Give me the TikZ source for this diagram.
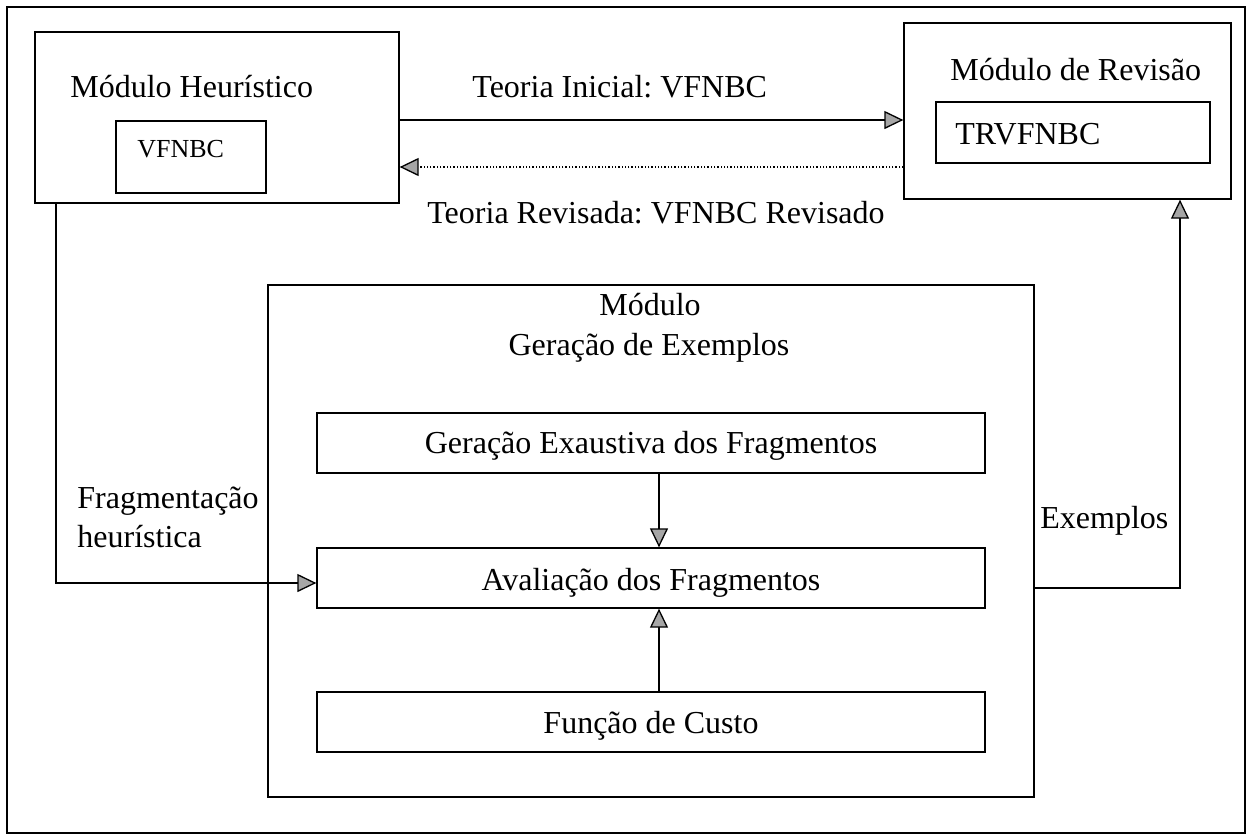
\documentclass[tikz,border=0pt]{standalone}
\usepackage{fontspec}
\setmainfont{Liberation Serif}
\usetikzlibrary{arrows.meta}
\frenchspacing
\begin{document}
\begin{tikzpicture}[x=0.5pt,y=-0.5pt,
  box/.style={draw, line width=0.65pt, rectangle, inner sep=0pt},
  txt/.style={inner sep=0pt, font=\fontsize{16}{19}\selectfont},
  small/.style={inner sep=0pt, font=\fontsize{13}{16}\selectfont},
  arr/.style={line width=0.65pt, -{Triangle[length=9.5pt,width=9pt,fill=gray!70]}}]
\useasboundingbox (0,0) rectangle (1253,836);

% frame around everything
\node[box, minimum width=619pt, minimum height=413pt] (frame) at (626,420) {};

% heuristic module
\node[box, minimum width=182pt, minimum height=85.5pt] (heur) at (217,117.5) {};
\node[txt, anchor=base west] (heurT) at (70,97) {Módulo Heurístico};
\node[box, minimum width=75pt, minimum height=36pt] (vf) at (191,157) {};
\node[small, anchor=base west] (vfT) at (137,157) {VFNBC};

% revision module
\node[box, minimum width=163.5pt, minimum height=88pt] (rev) at (1067.5,111) {};
\node[txt, anchor=base west] (revT) at (950,80) {Módulo de Revisão};
\node[box, minimum width=137pt, minimum height=30.5pt] (trv) at (1073,132.5) {};
\node[txt, anchor=base west] (trvT) at (955,144) {TRVFNBC};

% theory exchange
\node[txt, anchor=base west] (ini) at (472,97) {Teoria Inicial: VFNBC};
\node[txt, anchor=base west] (revis) at (427,223) {Teoria Revisada: VFNBC Revisado};
\coordinate (yA) at (0,120);
\coordinate (yB) at (0,167);
\draw[arr] (heur.east |- yA) -- (rev.west |- yA);
\draw[arr, densely dotted] (rev.west |- yB) -- (heur.east |- yB);

% example generation module
\node[box, minimum width=383pt, minimum height=256pt] (gen) at (651,541) {};
\node[txt, anchor=base] (genT1) at (650,315) {Módulo};
\node[txt, anchor=base] (genT2) at (649,355) {Geração de Exemplos};
\node[box, minimum width=334pt, minimum height=30pt] (exh) at (651,443) {};
\node[txt, anchor=base] (exhT) at (651,453) {Geração Exaustiva dos Fragmentos};
\node[box, minimum width=334pt, minimum height=30pt] (aval) at (651,578) {};
\node[txt, anchor=base] (avalT) at (651,590) {Avaliação dos Fragmentos};
\node[box, minimum width=334pt, minimum height=30pt] (cost) at (651,722) {};
\node[txt, anchor=base] (costT) at (651,733) {Função de Custo};

\coordinate (xC) at (659,0);
\draw[arr] (exh.south -| xC) -- (aval.north -| xC);
\draw[arr] (cost.north -| xC) -- (aval.south -| xC);

% fragmentation path
\node[txt, anchor=base west] (fragT) at (77,508) {Fragmentação};
\node[txt, anchor=base west] (fragT2) at (77,547) {heurística};
\coordinate (xF) at (56,0);
\coordinate (yF) at (0,583);
\draw[arr] (heur.south -| xF) -- (xF |- yF) -- (aval.west |- yF);

% examples path
\node[txt, anchor=base west] (exT) at (1040,528) {Exemplos};
\coordinate (xE) at (1180,0);
\coordinate (yE) at (0,588);
\draw[arr] (gen.east |- yE) -- (xE |- yE) -- (rev.south -| xE);
\end{tikzpicture}
\end{document}
